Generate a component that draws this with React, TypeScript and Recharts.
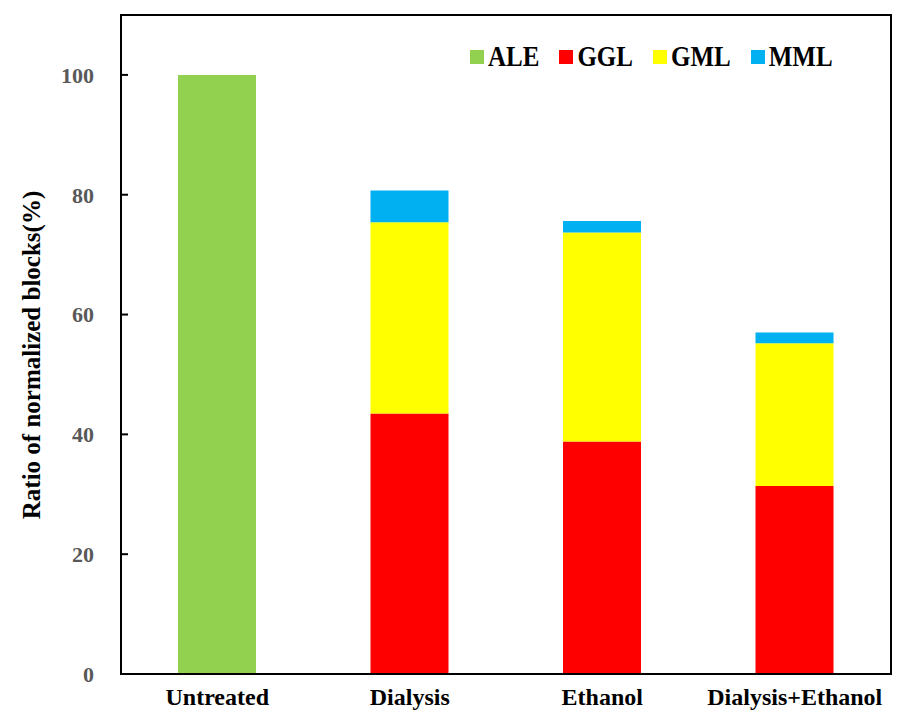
import React from 'react';
import { BarChart, Bar, XAxis, YAxis, Legend, ReferenceArea } from 'recharts';

const categories = ['Untreated', 'Dialysis', 'Ethanol', 'Dialysis+Ethanol'];
const ale = [100, 0, 0, 0];
const ggl = [0, 43.5, 38.8, 31.4];
const gml = [0, 31.9, 34.9, 23.8];
const mml = [0, 5.3, 1.9, 1.8];
const yTicks = [0, 20, 40, 60, 80, 100];

const data = categories.map((name, i) => ({
  name,
  ALE: ale[i],
  GGL: ggl[i],
  GML: gml[i],
  MML: mml[i],
}));

const FONT = 'Liberation Serif';

const colors = {
  ALE: '#92D050',
  GGL: '#FF0000',
  GML: '#FFFF00',
  MML: '#00B0F0',
};

const LegendContent = ({ payload }: any) => (
  <div style={{ display: 'flex', alignItems: 'center', fontFamily: FONT, fontWeight: 'bold', fontSize: 25, color: '#000' }}>
    {(payload || []).map((p: any) => (
      <div key={p.value} style={{ display: 'flex', alignItems: 'center', marginRight: 20 }}>
        <span style={{ width: 14, height: 14, background: p.color, display: 'inline-block', marginRight: 4 }} />
        <span style={{ lineHeight: '30px', display: 'inline-block', transform: 'scaleY(1.15)' }}>{p.value}</span>
      </div>
    ))}
  </div>
);

const YLabel = () => (
  <text
    x={31}
    y={355}
    transform="rotate(-90 31 355)"
    textAnchor="middle"
    dominantBaseline="central"
    fontFamily={FONT}
    fontWeight="bold"
    fontSize={25}
    fill="#000"
  >
    Ratio of normalized blocks(%)
  </text>
);

export default function App() {
  return (
    <div style={{ position: 'absolute', left: 0, top: 0, width: 917, height: 720, background: '#fff', fontFamily: FONT }}>
      <BarChart width={917} height={720} data={data} margin={{ top: 15, right: 26, bottom: 0, left: 0 }}>
        <XAxis
          dataKey="name"
          height={46}
          axisLine={{ stroke: '#000', strokeWidth: 2 }}
          tickLine={false}
          tickSize={6}
          tickMargin={8}
          tick={{ fill: '#000', fontFamily: FONT, fontWeight: 'bold', fontSize: 24 }}
        />
        <YAxis
          width={121}
          domain={[0, 110]}
          ticks={yTicks}
          allowDataOverflow
          axisLine={{ stroke: '#000', strokeWidth: 2 }}
          tickLine={{ stroke: '#000', strokeWidth: 2 }}
          tickSize={-7}
          tickMargin={34}
          tick={{ fill: '#595959', fontFamily: FONT, fontWeight: 'bold', fontSize: 22 }}
          label={<YLabel />}
        />
        <ReferenceArea y1={0} y2={110} fill="none" stroke="#000" strokeWidth={2} ifOverflow="visible" />
        <Legend
          layout="horizontal"
          verticalAlign="middle"
          align="center"
          wrapperStyle={{ top: 42, left: 470, width: 'auto' }}
          content={<LegendContent />}
        />
        <Bar dataKey="ALE" stackId="a" fill={colors.ALE} barSize={78} isAnimationActive={false} />
        <Bar dataKey="GGL" stackId="a" fill={colors.GGL} barSize={78} isAnimationActive={false} />
        <Bar dataKey="GML" stackId="a" fill={colors.GML} barSize={78} isAnimationActive={false} />
        <Bar dataKey="MML" stackId="a" fill={colors.MML} barSize={78} isAnimationActive={false} />
      </BarChart>
    </div>
  );
}
